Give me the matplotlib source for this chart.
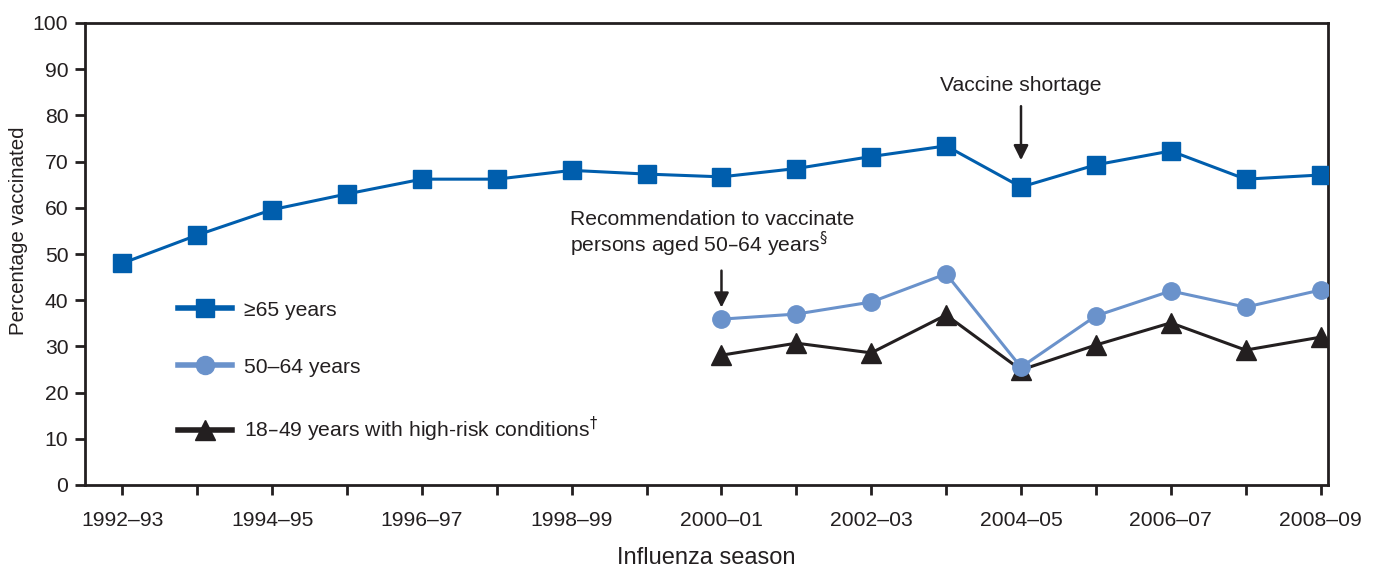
import matplotlib
matplotlib.use("Agg")
import matplotlib.pyplot as plt
from matplotlib.lines import Line2D

plt.rcParams['font.family'] = ['Liberation Sans', 'DejaVu Sans']
plt.rcParams['mathtext.fontset'] = 'dejavusans'

seasons = ["1992–93", "1993–94", "1994–95", "1995–96", "1996–97", "1997–98",
           "1998–99", "1999–00", "2000–01", "2001–02", "2002–03", "2003–04",
           "2004–05", "2005–06", "2006–07", "2007–08", "2008–09"]
age65 = [48.0, 54.1, 59.6, 63.0, 66.2, 66.2, 68.1, 67.3, 66.7, 68.5, 71.1,
         73.4, 64.5, 69.3, 72.3, 66.2, 67.1]
seasons_recent = seasons[8:]
age50_64 = [35.9, 37.0, 39.6, 45.7, 25.5, 36.6, 42.0, 38.5, 42.2]
age18_49 = [28.1, 30.7, 28.6, 36.8, 24.9, 30.3, 35.1, 29.2, 32.0]
yticks = list(range(0, 101, 10))

DARK = "#231F20"
BLUE = "#005EAD"
LBLUE = "#6A92CB"
FS = 15.2

fig = plt.figure(figsize=(13.81, 5.69), dpi=100)
ax = fig.add_axes([85/1381, 1-485/569, (1328-85)/1381, (485-23)/569])

x_all = list(range(len(seasons)))
x_recent = [seasons.index(s) for s in seasons_recent]

ax.plot(x_all, age65, color=BLUE, lw=2.2, marker='s', ms=13, zorder=3)
ax.plot(x_recent, age50_64, color=LBLUE, lw=2.2, marker='o', ms=12.5, zorder=4)
ax.plot(x_recent, age18_49, color=DARK, lw=2.2, marker='^', ms=14, zorder=3)

ax.set_xlim(-0.5, 16.1)
ax.set_ylim(0, 100)
ax.set_yticks(yticks)
ax.set_yticklabels([str(v) for v in yticks], fontsize=FS, color=DARK)
ax.set_xticks(x_all)
ax.set_xticklabels([s if i % 2 == 0 else "" for i, s in enumerate(seasons)],
                   fontsize=FS, color=DARK)
ax.tick_params(axis='both', direction='out', length=7, width=2, color=DARK, pad=5)
ax.tick_params(axis='x', pad=11.5)
for sp in ax.spines.values():
    sp.set_linewidth(2)
    sp.set_color(DARK)

ax.set_ylabel("Percentage vaccinated", fontsize=14.8, color=DARK)
ax.yaxis.set_label_coords(-0.0459, 0.55)
ax.set_xlabel("Influenza season", fontsize=17, color=DARK, labelpad=12.5)

# Legend
h1 = Line2D([], [], color=BLUE, lw=4, marker='s', ms=13)
h2 = Line2D([], [], color=LBLUE, lw=4, marker='o', ms=13)
h3 = Line2D([], [], color=DARK, lw=4, marker='^', ms=14)
ax.legend([h1, h2, h3],
          ["≥65 years", "50–64 years", r"18–49 years with high-risk conditions$^{\dagger}$"],
          loc='upper left', bbox_to_anchor=(0.0748, 0.399), frameon=False,
          fontsize=FS, handlelength=2.55, handletextpad=0.6, labelspacing=1.8,
          borderpad=0, borderaxespad=0, labelcolor=DARK)

# Annotations
ax.annotate("Vaccine shortage", xy=(12, 70.3), xytext=(12, 84.4),
            ha='center', va='bottom', fontsize=FS, color=DARK,
            arrowprops=dict(arrowstyle='-|>', color=DARK, lw=1.8,
                            mutation_scale=22, shrinkA=6, shrinkB=0))
ax.annotate("", xy=(8, 38.4), xytext=(8, 46.4),
            arrowprops=dict(arrowstyle='-|>', color=DARK, lw=1.8,
                            mutation_scale=22, shrinkA=0, shrinkB=0))
ax.text(5.98, 59.6, "Recommendation to vaccinate\npersons aged 50–64 years$^{\\S}$",
        ha='left', va='top', fontsize=FS, color=DARK, linespacing=1.05)

fig.savefig("out.png", dpi=100)
